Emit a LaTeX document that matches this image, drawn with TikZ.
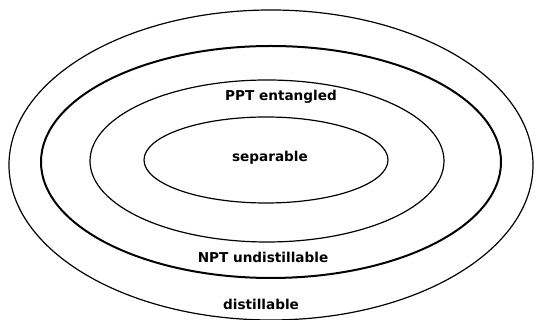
\documentclass[tikz,border=0pt]{standalone}
\usepackage{fontspec}
\setmainfont{DejaVu Sans}
\tikzset{
  setline/.style={line width=1.2pt},
  setthick/.style={line width=2pt},
  setlabel/.style={font=\bfseries\fontsize{13.6}{15}\selectfont, inner sep=0pt}
}
\begin{document}
\begin{tikzpicture}[x=1pt,y=1pt]
  \useasboundingbox (0,0) rectangle (542,320);
  \coordinate (O1) at (271,155);
  \coordinate (O2) at (271,158);
  \coordinate (O3) at (267,159);
  \coordinate (O4) at (266,160);

  % nested sets
  \draw [setline]  (O1) ellipse [x radius=262, y radius=155];
  \draw [setthick] (O2) ellipse [x radius=230, y radius=116];
  \draw [setline]  (O3) ellipse [x radius=177, y radius=81];
  \draw [setline]  (O4) ellipse [x radius=122, y radius=43];

  \node [setlabel] (sep)  at (270,162) {separable};
  \node [setlabel] (ppt)  at (281,223) {PPT entangled};
  \node [setlabel] (npt)  at (263,63)  {NPT undistillable};
  \node [setlabel] (dist) at (261,16)  {distillable};
\end{tikzpicture}
\end{document}
